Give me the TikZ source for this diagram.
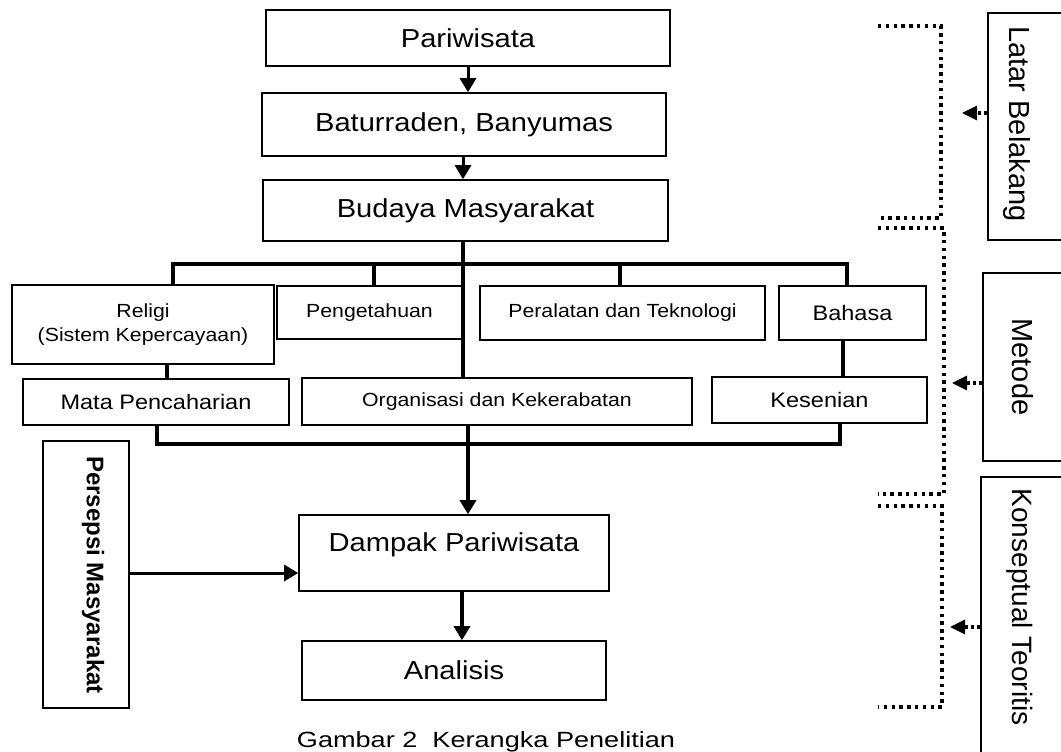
\documentclass[tikz,border=0pt]{standalone}
\usepackage{fontspec}
\setmainfont{Liberation Sans}[FakeStretch=1.12]
\newfontfamily\rotfont{Liberation Sans}
\usetikzlibrary{arrows.meta}
\begin{document}
\begin{tikzpicture}[x=1pt,y=-1pt,
  box/.style={draw=black,line width=1.6pt,rectangle,inner sep=0pt,align=center},
  conn/.style={line width=3.5pt,line cap=rect},
  arr/.style={line width=3pt,-{Triangle[width=16pt,length=14pt]}},
  dotl/.style={line width=3.4pt,dash pattern=on 3.4pt off 4.4pt},
  darr/.style={line width=3.2pt,dash pattern=on 3pt off 3pt,-{Triangle[width=14pt,length=15pt]}},
  fa/.style={font=\fontsize{26}{30}\selectfont},
  fb/.style={font=\fontsize{19}{24}\selectfont},
  fc/.style={font=\fontsize{21}{25}\selectfont},
  fr/.style={font=\rotfont\fontsize{29}{33}\selectfont,rotate=-90}]
\useasboundingbox (0,0) rectangle (1061,752);
\clip (0,0) rectangle (1061,752);
% main boxes
\node[box,fa,minimum width=404pt,minimum height=56pt] (par) at (468,38) {Pariwisata};
\node[box,fa,minimum width=404pt,minimum height=63pt] (bat) at (464,124.5) {Baturraden, Banyumas};
\node[box,fa,minimum width=405pt,minimum height=61pt] (bud) at (465.5,210.5) {Budaya Masyarakat};
\node[box,fb,minimum width=262pt,minimum height=79pt] (rel) at (143,324.5) {Religi\\(Sistem Kepercayaan)};
\node[box,fb,minimum width=185pt,minimum height=53pt] (pen) at (369.5,312.5) {Pengetahuan};
\node[box,fb,minimum width=285pt,minimum height=54pt] (per) at (622.5,313) {Peralatan dan Teknologi};
\node[box,fc,minimum width=147pt,minimum height=54pt] (bah) at (852.5,313) {Bahasa};
\node[box,fc,minimum width=266pt,minimum height=46pt] (mat) at (156,402) {Mata Pencaharian};
\node[box,fb,minimum width=390pt,minimum height=47pt] (org) at (497,401.5) {Organisasi dan Kekerabatan};
\node[box,fc,minimum width=215pt,minimum height=46pt] (kes) at (819.5,400) {Kesenian};
\node[box,minimum width=310pt,minimum height=76pt] (dam) at (454,553) {};
\node[fa,inner sep=0pt] (damtext) at ([yshift=8pt]dam.center) {Dampak Pariwisata};
\node[box,fa,minimum width=304pt,minimum height=59pt] (ana) at (454,670.5) {Analisis};
\node[box,minimum width=86pt,minimum height=267pt] (pers) at (86,574.5) {};
\node[font=\rotfont\bfseries\fontsize{24}{28}\selectfont,rotate=-90,inner sep=0pt] (perstext) at (93,575) {Persepsi Masyarakat};
% right boxes
\node[box,minimum width=87pt,minimum height=227pt] (lat) at (1031.5,126.5) {};
\node[fr,inner sep=0pt] (lattext) at (1017,124) {Latar Belakang};
\node[box,minimum width=92pt,minimum height=188pt] (met) at (1029,367) {};
\node[fr,inner sep=0pt] (mettext) at (1023,367) {Metode};
\node[box,minimum width=94pt,minimum height=293pt] (kon) at (1028,623.5) {};
\node[font=\rotfont\fontsize{28}{32}\selectfont,rotate=-90,inner sep=0pt] (kontext) at (1020,607) {Konseptual Teoritis};
% caption
\node[font=\fontsize{22}{26}\selectfont,anchor=base,inner sep=0pt] (cap) at (486,747) {\scalebox{1.1}[1]{Gambar 2\ \ Kerangka Penelitian}};
% coordinates
\coordinate (barL) at (173,264);
\coordinate (barR) at (847,264);
\coordinate (barP) at (374,264);
\coordinate (barQ) at (620,264);
\coordinate (stem) at (463,264);
\coordinate (rm) at (167,0);
\coordinate (bk) at (843,0);
\coordinate (bL) at (157,444);
\coordinate (bR) at (840,444);
\coordinate (oc) at (468,0);
\coordinate (da) at (462,0);
\coordinate (pc) at (0,573);
% top arrows
\draw[arr] (par.south) -- (par.south |- bat.north);
\draw[arr] (bat.south -| stem) -- (bud.north -| stem);
% tree
\draw[conn] (bud.south -| stem) -- (org.north -| stem);
\draw[conn] (barL |- rel.north) -- (barL) -- (barR) -- (barR |- bah.north);
\draw[conn] (barP) -- (barP |- pen.north);
\draw[conn] (barQ) -- (barQ |- per.north);
\draw[conn] (rel.south -| rm) -- (mat.north -| rm);
\draw[conn] (bah.south -| bk) -- (kes.north -| bk);
\draw[conn] (mat.south -| bL) -- (bL) -- (bR) -- (kes.south -| bR);
\draw[arr,line width=3.5pt] (org.south -| oc) -- (dam.north -| oc);
\draw[arr,line width=3.5pt] (dam.south -| da) -- (ana.north -| da);
\draw[arr] (pers.east |- pc) -- (dam.west |- pc);
% dotted brackets
\draw[dotl] (878,26) -- (941,26) -- (941,218) -- (878,218);
\draw[dotl] (878,228) -- (944,228) -- (944,494) -- (878,494);
\draw[dotl] (878,506) -- (942,506) -- (942,707) -- (878,707);
% dotted arrows
\coordinate (la) at (962,113);
\coordinate (ma) at (952,383);
\coordinate (ka) at (950,627);
\draw[darr] (lat.west |- la) -- (la);
\draw[darr] (met.west |- ma) -- (ma);
\draw[darr] (kon.west |- ka) -- (ka);
\end{tikzpicture}
\end{document}
